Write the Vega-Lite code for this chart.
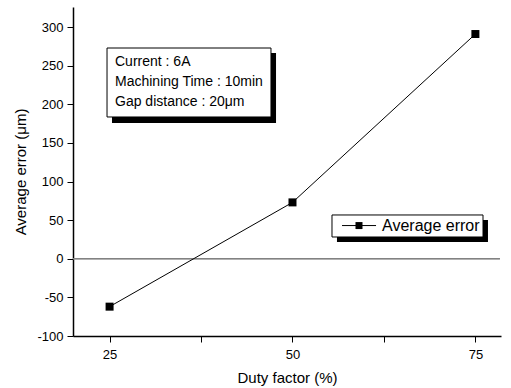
{
  "$schema": "https://vega.github.io/schema/vega-lite/v6.json",
  "width": 428,
  "height": 329,
  "autosize": {"type": "none"},
  "padding": {"left": 73, "top": 7, "right": 10, "bottom": 52},
  "background": "white",
  "config": {
    "view": {"stroke": null},
    "font": "Liberation Sans",
    "axis": {
      "domainColor": "black",
      "tickColor": "black",
      "labelColor": "black",
      "titleColor": "black",
      "labelFont": "Liberation Sans",
      "titleFont": "Liberation Sans",
      "labelFontSize": 13,
      "titleFontSize": 15,
      "titleFontWeight": "normal",
      "grid": false
    }
  },
  "datasets": {
    "main": [
      {"duty": 25, "error": -62, "series": "Average error"},
      {"duty": 50, "error": 73, "series": "Average error"},
      {"duty": 75, "error": 291, "series": "Average error"}
    ],
    "info": [
      {"text": ["Current : 6A", "Machining Time : 10min", "Gap distance : 20μm"]}
    ]
  },
  "layer": [
    {
      "data": {"name": "main"},
      "mark": {"type": "rule", "color": "#808080", "strokeWidth": 1},
      "encoding": {
        "y": {"datum": 0, "type": "quantitative", "scale": {"domain": [-100, 326], "nice": false, "zero": false},
          "axis": {"values": [-100, -75, -50, -25, 0, 25, 50, 75, 100, 125, 150, 175, 200, 225, 250, 275, 300, 325],
            "tickSize": 6,
            "encode": {"ticks": {"update": {"x2": {"signal": "datum.value % 50 == 0 ? -6 : -3.5"}}}},
            "labelExpr": "datum.value % 50 == 0 ? '' + datum.value : ''",
            "labelPadding": 4, "domainWidth": 1.5, "tickWidth": 1, "title": "Average error (μm)", "titlePadding": 8}},
        "x": {"datum": 20, "type": "quantitative", "scale": {"domain": [20, 78.5], "nice": false, "zero": false},
          "axis": {"values": [25, 37.5, 50, 62.5, 75],
            "tickSize": 6,
            "encode": {"ticks": {"update": {"y2": {"signal": "datum.value % 25 == 0 ? 6 : 3.5"}}}},
            "labelExpr": "datum.value % 25 == 0 ? '' + datum.value : ''",
            "labelPadding": 6, "domainWidth": 1.5, "tickWidth": 1, "title": "Duty factor (%)", "titlePadding": 9}},
        "x2": {"datum": 78.36}
      }
    },
    {
      "data": {"name": "main"},
      "mark": {"type": "line", "color": "black", "strokeWidth": 1},
      "encoding": {
        "x": {"field": "duty", "type": "quantitative"},
        "y": {"field": "error", "type": "quantitative"}
      }
    },
    {
      "data": {"name": "main"},
      "mark": {"type": "point", "shape": "square", "filled": true, "color": "black", "size": 64, "opacity": 1},
      "encoding": {
        "x": {"field": "duty", "type": "quantitative"},
        "y": {"field": "error", "type": "quantitative"}
      }
    },
    {
      "data": {"values": [{}]},
      "mark": {"type": "rect", "color": "black"},
      "encoding": {
        "x": {"datum": 25.33, "type": "quantitative"},
        "x2": {"datum": 47.75},
        "y": {"datum": 266.4, "type": "quantitative"},
        "y2": {"datum": 175.8}
      }
    },
    {
      "data": {"values": [{}]},
      "mark": {"type": "rect", "fill": "white", "stroke": "black", "strokeWidth": 1},
      "encoding": {
        "x": {"datum": 24.65, "type": "quantitative"},
        "x2": {"datum": 47.06},
        "y": {"datum": 272.9, "type": "quantitative"},
        "y2": {"datum": 183.6}
      }
    },
    {
      "data": {"name": "info"},
      "mark": {"type": "text", "align": "left", "baseline": "middle", "fontSize": 14, "lineHeight": 20, "font": "Liberation Sans", "color": "black"},
      "encoding": {
        "x": {"datum": 25.74, "type": "quantitative"},
        "y": {"datum": 254.8, "type": "quantitative"},
        "text": {"field": "text"}
      }
    },
    {
      "data": {"values": [{}]},
      "mark": {"type": "rect", "color": "black"},
      "encoding": {
        "x": {"datum": 56.08, "type": "quantitative"},
        "x2": {"datum": 76.72},
        "y": {"datum": 50.2, "type": "quantitative"},
        "y2": {"datum": 21.7}
      }
    },
    {
      "data": {"values": [{}]},
      "mark": {"type": "rect", "fill": "white", "stroke": "black", "strokeWidth": 1},
      "encoding": {
        "x": {"datum": 55.4, "type": "quantitative"},
        "x2": {"datum": 76.04},
        "y": {"datum": 56.7, "type": "quantitative"},
        "y2": {"datum": 28.2}
      }
    },
    {
      "data": {"values": [{}]},
      "mark": {"type": "rule", "color": "black", "strokeWidth": 1},
      "encoding": {
        "x": {"datum": 56.77, "type": "quantitative"},
        "x2": {"datum": 61.42},
        "y": {"datum": 43, "type": "quantitative"}
      }
    },
    {
      "data": {"values": [{}]},
      "mark": {"type": "point", "shape": "square", "filled": true, "color": "black", "size": 49, "opacity": 1},
      "encoding": {
        "x": {"datum": 59.09, "type": "quantitative"},
        "y": {"datum": 43, "type": "quantitative"}
      }
    },
    {
      "data": {"name": "main"},
      "transform": [{"filter": "datum.duty == 25"}],
      "mark": {"type": "text", "align": "left", "baseline": "middle", "fontSize": 16, "font": "Liberation Sans", "color": "black"},
      "encoding": {
        "x": {"datum": 62.24, "type": "quantitative"},
        "y": {"datum": 43, "type": "quantitative"},
        "text": {"field": "series"}
      }
    }
  ]
}
